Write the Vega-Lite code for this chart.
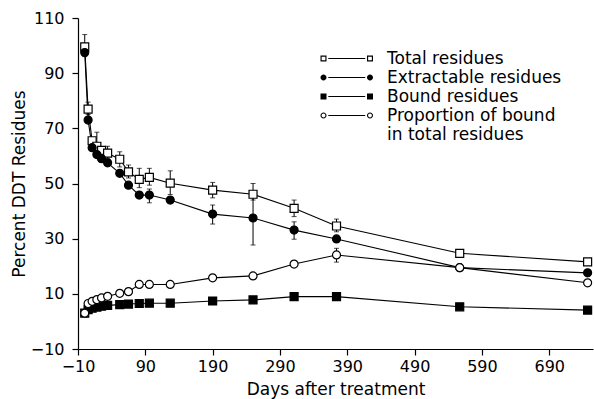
{
  "$schema": "https://vega.github.io/schema/vega-lite/v6.json",
  "width": 515,
  "height": 331,
  "autosize": "none",
  "padding": {"left": 78, "top": 18, "right": 1, "bottom": 50},
  "background": "white",
  "config": {
    "view": {"stroke": null},
    "font": "DejaVu Sans",
    "axis": {
      "grid": false,
      "domainColor": "black",
      "tickColor": "black",
      "labelColor": "black",
      "titleColor": "black",
      "labelFont": "DejaVu Sans",
      "titleFont": "DejaVu Sans",
      "labelFontSize": 16,
      "titleFontSize": 17,
      "titleFontWeight": "normal",
      "tickSize": 6,
      "domainWidth": 1.2,
      "tickWidth": 1.2,
      "labelFlush": false
    }
  },
  "datasets": {
    "main": [
      {"day": 0, "series": "Total residues", "value": 99.5},
      {"day": 5, "series": "Total residues", "value": 77},
      {"day": 11, "series": "Total residues", "value": 65.5},
      {"day": 18, "series": "Total residues", "value": 63.5},
      {"day": 25, "series": "Total residues", "value": 62},
      {"day": 34, "series": "Total residues", "value": 61},
      {"day": 52, "series": "Total residues", "value": 58.8},
      {"day": 65, "series": "Total residues", "value": 54.2},
      {"day": 81, "series": "Total residues", "value": 51.5},
      {"day": 96, "series": "Total residues", "value": 52.2},
      {"day": 127, "series": "Total residues", "value": 50.1},
      {"day": 190, "series": "Total residues", "value": 47.6},
      {"day": 250, "series": "Total residues", "value": 46.1},
      {"day": 311, "series": "Total residues", "value": 41},
      {"day": 374, "series": "Total residues", "value": 34.6},
      {"day": 557, "series": "Total residues", "value": 24.7},
      {"day": 747, "series": "Total residues", "value": 21.6},
      {"day": 0, "series": "Extractable residues", "value": 97.5},
      {"day": 5, "series": "Extractable residues", "value": 73},
      {"day": 11, "series": "Extractable residues", "value": 63},
      {"day": 18, "series": "Extractable residues", "value": 60.5},
      {"day": 25, "series": "Extractable residues", "value": 59},
      {"day": 34, "series": "Extractable residues", "value": 57.5},
      {"day": 52, "series": "Extractable residues", "value": 53.7},
      {"day": 65, "series": "Extractable residues", "value": 49.4},
      {"day": 81, "series": "Extractable residues", "value": 45.8},
      {"day": 96, "series": "Extractable residues", "value": 45.8},
      {"day": 127, "series": "Extractable residues", "value": 44},
      {"day": 190, "series": "Extractable residues", "value": 38.9},
      {"day": 250, "series": "Extractable residues", "value": 37.5},
      {"day": 311, "series": "Extractable residues", "value": 33.1},
      {"day": 374, "series": "Extractable residues", "value": 29.9},
      {"day": 557, "series": "Extractable residues", "value": 19.5},
      {"day": 747, "series": "Extractable residues", "value": 17.6},
      {"day": 0, "series": "Bound residues", "value": 3},
      {"day": 5, "series": "Bound residues", "value": 4.3},
      {"day": 11, "series": "Bound residues", "value": 4.8},
      {"day": 18, "series": "Bound residues", "value": 5.2},
      {"day": 25, "series": "Bound residues", "value": 5.5},
      {"day": 34, "series": "Bound residues", "value": 5.8},
      {"day": 52, "series": "Bound residues", "value": 6.1},
      {"day": 65, "series": "Bound residues", "value": 6.3},
      {"day": 81, "series": "Bound residues", "value": 6.5},
      {"day": 96, "series": "Bound residues", "value": 6.6},
      {"day": 127, "series": "Bound residues", "value": 6.6},
      {"day": 190, "series": "Bound residues", "value": 7.4},
      {"day": 250, "series": "Bound residues", "value": 7.8},
      {"day": 311, "series": "Bound residues", "value": 9},
      {"day": 374, "series": "Bound residues", "value": 9},
      {"day": 557, "series": "Bound residues", "value": 5.3},
      {"day": 747, "series": "Bound residues", "value": 4.1},
      {"day": 0, "series": "Proportion of bound in total residues", "value": 3},
      {"day": 5, "series": "Proportion of bound in total residues", "value": 6.5},
      {"day": 11, "series": "Proportion of bound in total residues", "value": 7.3},
      {"day": 18, "series": "Proportion of bound in total residues", "value": 7.9},
      {"day": 25, "series": "Proportion of bound in total residues", "value": 8.5},
      {"day": 34, "series": "Proportion of bound in total residues", "value": 9.1},
      {"day": 52, "series": "Proportion of bound in total residues", "value": 10.2},
      {"day": 65, "series": "Proportion of bound in total residues", "value": 10.8},
      {"day": 81, "series": "Proportion of bound in total residues", "value": 13.4},
      {"day": 96, "series": "Proportion of bound in total residues", "value": 13.4},
      {"day": 127, "series": "Proportion of bound in total residues", "value": 13.4},
      {"day": 190, "series": "Proportion of bound in total residues", "value": 15.8},
      {"day": 250, "series": "Proportion of bound in total residues", "value": 16.5},
      {"day": 311, "series": "Proportion of bound in total residues", "value": 20.8},
      {"day": 374, "series": "Proportion of bound in total residues", "value": 24.1},
      {"day": 557, "series": "Proportion of bound in total residues", "value": 19.5},
      {"day": 747, "series": "Proportion of bound in total residues", "value": 14}
    ],
    "err": [
      {"day": 0, "series": "Total residues", "lo": 96, "hi": 104},
      {"day": 5, "series": "Total residues", "lo": 75, "hi": 79.5},
      {"day": 18, "series": "Total residues", "lo": 61, "hi": 68.6},
      {"day": 34, "series": "Total residues", "lo": 59, "hi": 63.5},
      {"day": 52, "series": "Total residues", "lo": 56, "hi": 61.5},
      {"day": 65, "series": "Total residues", "lo": 52, "hi": 56.7},
      {"day": 81, "series": "Total residues", "lo": 48.5, "hi": 55.5},
      {"day": 96, "series": "Total residues", "lo": 49.4, "hi": 55.5},
      {"day": 127, "series": "Total residues", "lo": 46, "hi": 54.6},
      {"day": 190, "series": "Total residues", "lo": 44.8, "hi": 50.4},
      {"day": 250, "series": "Total residues", "lo": 44, "hi": 50},
      {"day": 311, "series": "Total residues", "lo": 38, "hi": 44},
      {"day": 374, "series": "Total residues", "lo": 32.5, "hi": 37.1},
      {"day": 96, "series": "Extractable residues", "lo": 43, "hi": 48},
      {"day": 190, "series": "Extractable residues", "lo": 35.3, "hi": 42.2},
      {"day": 250, "series": "Extractable residues", "lo": 27.7, "hi": 47.3},
      {"day": 311, "series": "Extractable residues", "lo": 29.8, "hi": 36.1},
      {"day": 374, "series": "Proportion of bound in total residues", "lo": 21.5, "hi": 26.5}
    ]
  },
  "resolve": {"scale": {"shape": "independent", "fill": "independent"}},
  "layer": [
    {
      "data": {"name": "main"},
      "mark": {"type": "line", "color": "black", "strokeWidth": 1.1},
      "encoding": {
        "x": {
          "field": "day", "type": "quantitative",
          "scale": {"domain": [-10, 755], "nice": false, "zero": false},
          "axis": {"values": [-10, 90, 190, 290, 390, 490, 590, 690], "title": "Days after treatment", "labelPadding": 3, "titlePadding": 7}
        },
        "y": {
          "field": "value", "type": "quantitative",
          "scale": {"domain": [-10, 110], "nice": false, "zero": false},
          "title": "Percent DDT Residues",
          "axis": {"values": [-10, 10, 30, 50, 70, 90, 110], "title": "Percent DDT Residues", "labelPadding": 8, "titlePadding": 2}
        },
        "detail": {"field": "series"}
      }
    },
    {
      "data": {"name": "err"},
      "mark": {"type": "errorbar", "ticks": {"size": 5, "color": "black"}, "rule": {"color": "black", "strokeWidth": 1}},
      "encoding": {
        "x": {"field": "day", "type": "quantitative"},
        "y": {"field": "lo", "type": "quantitative", "title": "Percent DDT Residues"},
        "y2": {"field": "hi"}
      }
    },
    {
      "data": {"name": "main"},
      "mark": {"type": "point", "filled": true, "stroke": "black", "strokeWidth": 1.2, "opacity": 1, "size": 64},
      "encoding": {
        "x": {"field": "day", "type": "quantitative"},
        "y": {"field": "value", "type": "quantitative", "title": "Percent DDT Residues"},
        "shape": {
          "field": "series", "type": "nominal",
          "scale": {"domain": ["Total residues", "Extractable residues", "Bound residues", "Proportion of bound in total residues"], "range": ["square", "circle", "square", "circle"]},
          "legend": null
        },
        "fill": {
          "field": "series", "type": "nominal",
          "scale": {"domain": ["Total residues", "Extractable residues", "Bound residues", "Proportion of bound in total residues"], "range": ["white", "black", "black", "white"]},
          "legend": null
        }
      }
    },
    {
      "data": {"name": "main"},
      "mark": {"type": "point", "filled": true, "color": "black", "strokeWidth": 0, "opacity": 0, "size": 36},
      "encoding": {
        "x": {"field": "day", "type": "quantitative"},
        "y": {"field": "value", "type": "quantitative", "title": "Percent DDT Residues"},
        "shape": {
          "field": "series", "type": "nominal",
          "scale": {"domain": ["Total residues", "Extractable residues", "Bound residues", "Proportion of bound in total residues"], "range": [
            "M-1,-1H1V1H-1Z M-0.62,-0.62V0.62H0.62V-0.62Z M1.6,-0.17H13.9V0.17H1.6Z M14.5,-1H16.5V1H14.5Z M14.88,-0.62V0.62H16.12V-0.62Z",
            "M-1,0A1,1 0 1,1 1,0A1,1 0 1,1 -1,0Z M1.6,-0.17H13.9V0.17H1.6Z M14.5,0A1,1 0 1,1 16.5,0A1,1 0 1,1 14.5,0Z",
            "M-1,-1H1V1H-1Z M1.6,-0.17H13.9V0.17H1.6Z M14.5,-1H16.5V1H14.5Z",
            "M-1,0A1,1 0 1,1 1,0A1,1 0 1,1 -1,0Z M-0.64,0A0.64,0.64 0 1,0 0.64,0A0.64,0.64 0 1,0 -0.64,0Z M1.6,-0.17H13.9V0.17H1.6Z M14.5,0A1,1 0 1,1 16.5,0A1,1 0 1,1 14.5,0Z M14.86,0A0.64,0.64 0 1,0 16.14,0A0.64,0.64 0 1,0 14.86,0Z"
          ]},
          "legend": {
            "title": null,
            "orient": "none",
            "legendX": 237,
            "legendY": 32,
            "padding": 0,
            "symbolSize": 36,
            "symbolFillColor": "black",
            "symbolStrokeWidth": 0,
            "symbolOpacity": 1,
            "labelOffset": 55,
            "labelFont": "DejaVu Sans",
            "labelFontSize": 17,
            "labelColor": "black",
            "labelLimit": 300,
            "rowPadding": 1,
            "labelExpr": "datum.label == 'Proportion of bound in total residues' ? ['Proportion of bound', 'in total residues'] : datum.label",
            "encoding": {
              "symbols": {"update": {"fill": {"value": "black"}, "opacity": {"value": 1}}},
              "labels": {"update": {"lineHeight": {"value": 19}}}
            }
          }
        }
      }
    }
  ]
}
